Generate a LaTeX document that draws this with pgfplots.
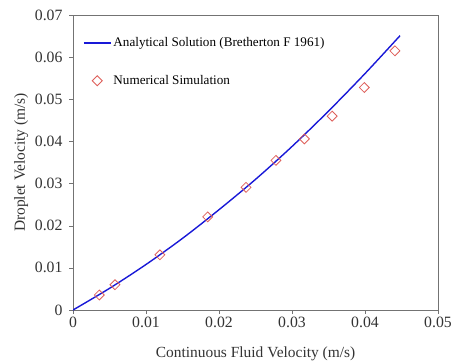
\documentclass[border=0pt]{standalone}
\usepackage{pgfplots}
\pgfplotsset{compat=1.18}
\usepackage{fontspec}
\setmainfont{Liberation Serif}
\definecolor{linecol}{RGB}{25,25,215}
\definecolor{markcol}{RGB}{222,95,90}
\pgfplotsset{
  lineleg/.style={legend image code/.code={\draw[##1] (0bp,0bp) -- (27bp,0bp);}},
  markleg/.style={legend image code/.code={\path[##1] plot coordinates {(13.5bp,0bp)}; \path (0bp,0bp) (27bp,0bp);}},
}
\begin{document}
\begin{tikzpicture}
\begin{axis}[
  scale only axis, width=365bp, height=295bp,
  xmin=0, xmax=0.05, ymin=0, ymax=0.07,
  xtick={0,0.01,0.02,0.03,0.04,0.05},
  ytick={0,0.01,0.02,0.03,0.04,0.05,0.06,0.07},
  scaled ticks=false,
  tick align=outside, tick pos=left, major tick length=4bp,
  axis line style={black!55}, tick style={black!55},
  /pgf/number format/assume math mode=true,
  /pgf/number format/fixed, /pgf/number format/precision=2,
  ticklabel style={font=\fontsize{15.8}{18}\selectfont, text=black!80},
  yticklabel style={xshift=-3bp},
  label style={font=\fontsize{15.5}{18}\selectfont, text=black!80},
  xlabel={Continuous Fluid Velocity (m/s)},
  xlabel style={yshift=-12bp},
  ylabel={Droplet Velocity (m/s)},
  legend cell align=left,
  legend style={draw=none, fill=none, inner sep=0pt,
    at={(rel axis cs:0.027,0.93)}, anchor=north west,
    row sep=23bp, font=\fontsize{13.2}{15}\selectfont,
    /tikz/every odd column/.style={column sep=0pt},
    /tikz/every even column/.style={column sep=0pt},
    nodes={inner xsep=2bp}},
]
\addplot[color=linecol, line width=1.4pt, smooth, lineleg]
  coordinates {
  (0,0) (0.005,0.00514) (0.01,0.0108) (0.015,0.0170) (0.02,0.0238)
  (0.025,0.0310) (0.03,0.0388) (0.035,0.0472) (0.04,0.0561) (0.0448,0.0651)
  };
\addlegendentry{Analytical Solution (Bretherton F 1961)}
\addplot[only marks, mark=square, mark size=3.5bp, color=markcol,
  mark options={line width=0.8pt, rotate=45}, markleg]
  coordinates {
  (0.0036,0.00356) (0.00575,0.0060) (0.0119,0.0131) (0.01845,0.0221)
  (0.0237,0.0291) (0.0278,0.0355) (0.0317,0.0406) (0.0355,0.0460)
  (0.0399,0.0528) (0.0441,0.0615)
  };
\addlegendentry{Numerical Simulation}
\end{axis}
\pgfresetboundingbox
\path[use as bounding box] ([xshift=-73bp,yshift=-52bp]current axis.south west) rectangle ([xshift=13bp,yshift=15bp]current axis.north east);
\end{tikzpicture}
\end{document}
